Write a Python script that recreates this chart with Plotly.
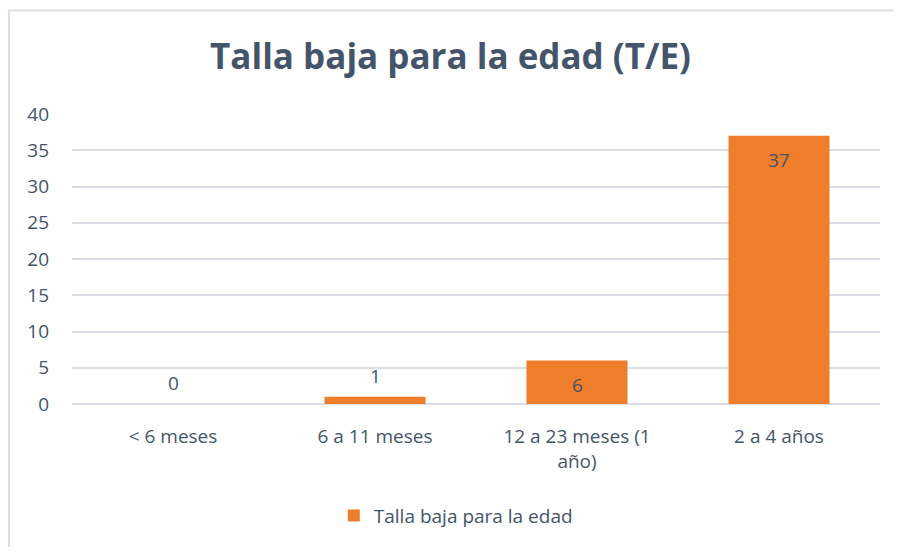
import plotly.graph_objects as go

categorias = ["< 6 meses", "6 a 11 meses", "12 a 23 meses (1<br>año)", "2 a 4 años"]
valores = [0, 1, 6, 37]
serie = "Talla baja para la edad"
titulo = "Talla baja para la edad (T/E)"

txt = "#44546A"
fuente = "'Open Sans', 'Noto Sans', sans-serif"

fig = go.Figure()
fig.add_trace(go.Bar(
    x=categorias, y=valores, name=serie,
    marker=dict(color="#F07D2C", line=dict(width=0)),
    width=0.5,
    textposition="none",
))

# etiquetas de datos: fuera de la barra si es pequena, dentro arriba si no
for c, v in zip(categorias, valores):
    dentro = v >= 3
    fig.add_annotation(x=c, y=v, text=str(v), showarrow=False,
                       yanchor="middle", yshift=-24 if dentro else 21,
                       font=dict(size=19, color=txt, family=fuente))

# marco del grafico (solo se ven los bordes izquierdo y superior)
fig.add_shape(type="rect", xref="paper", yref="paper",
              x0=-0.078, x1=1.2, y0=-0.8, y1=1.357,
              line=dict(color="#D9DEE6", width=2), layer="below")

fig.update_layout(
    width=885, height=539,
    margin=dict(l=64, r=13, t=106, b=140),
    paper_bgcolor="white", plot_bgcolor="white",
    font=dict(family=fuente, color=txt, size=19),
    title=dict(text="<b>" + titulo + "</b>", x=0.5, xanchor="center",
               y=0.91, yanchor="middle",
               font=dict(size=35, color=txt, family=fuente)),
    showlegend=True,
    legend=dict(orientation="h", x=0.475, xanchor="center", y=-0.385, yanchor="middle",
                font=dict(size=19, color=txt), itemwidth=30),
    bargap=0.5,
)
fig.update_yaxes(range=[0, 40], dtick=5, showgrid=True, gridcolor="#D9DEE6", gridwidth=2,
                 zeroline=True, zerolinecolor="#D9DEE6", zerolinewidth=2,
                 tickfont=dict(size=19, color=txt), ticks="", showline=False,
                 ticklabelstandoff=22)
fig.update_xaxes(tickfont=dict(size=19, color=txt), showline=False, ticks="",
                 ticklabelstandoff=19)

fig.write_html("out.html")
